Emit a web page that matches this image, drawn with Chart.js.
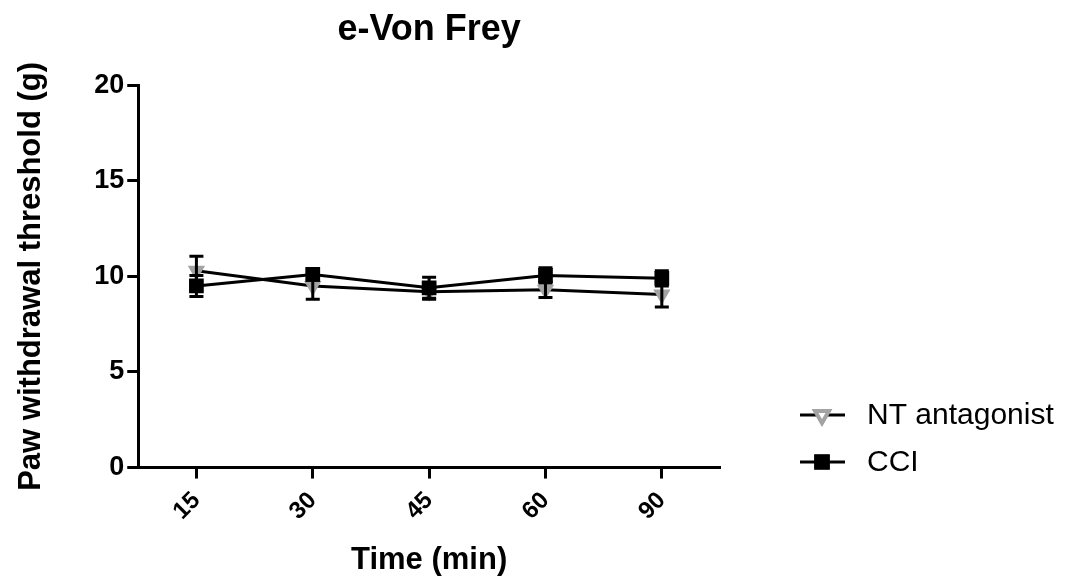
<!DOCTYPE html>
<html>
<head>
<meta charset="utf-8">
<script src="https://cdn.jsdelivr.net/npm/chart.js@4"></script>
<style>
    html, body { margin: 0; padding: 0; background: #fff; }
    #wrap { width: 1073px; height: 581px; }
</style>
</head>
<body>
<div id="wrap"><canvas id="vonFreyChart" width="1073" height="581"></canvas></div>
<script>
// e-Von Frey - paw withdrawal threshold over time

const timeLabels = ['15', '30', '45', '60', '90'];
const ntMean = [10.3, 9.5, 9.2, 9.3, 9.05];
const ntErr = [0.75, 0.7, 0.4, 0.4, 0.65];
const cciMean = [9.5, 10.1, 9.4, 10.05, 9.9];
const cciErr = [0.55, 0.3, 0.55, 0.4, 0.4];
const yTicks = [0, 5, 10, 15, 20];

const FONT = 'Arial, "Liberation Sans", Helvetica, sans-serif';

// error bars (mean ± err) drawn through the y scale
const errorBars = {
    id: 'errorBars',
    afterDatasetsDraw(chart) {
        const ctx = chart.ctx;
        const y = chart.scales.y;
        ctx.save();
        ctx.strokeStyle = '#000';
        ctx.lineWidth = 3;
        chart.data.datasets.forEach((ds, di) => {
            const meta = chart.getDatasetMeta(di);
            meta.data.forEach((pt, i) => {
                const v = ds.data[i];
                const e = ds.errors[i];
                const top = y.getPixelForValue(v + e);
                const bot = y.getPixelForValue(v - e);
                ctx.beginPath();
                ctx.moveTo(pt.x, top);
                ctx.lineTo(pt.x, bot);
                ctx.moveTo(pt.x - 7, top);
                ctx.lineTo(pt.x + 7, top);
                ctx.moveTo(pt.x - 7, bot);
                ctx.lineTo(pt.x + 7, bot);
                ctx.stroke();
            });
        });
        ctx.restore();
    }
};

// legend on the right: line - marker - line, then label
const sideLegend = {
    id: 'sideLegend',
    afterDraw(chart) {
        const ctx = chart.ctx;
        ctx.save();
        chart.data.datasets.forEach((ds, i) => {
            const ly = 415 + i * 47;
            ctx.strokeStyle = '#000';
            ctx.lineWidth = 3;
            ctx.beginPath();
            ctx.moveTo(800, ly);
            ctx.lineTo(845, ly);
            ctx.stroke();
            Chart.helpers.drawPoint(ctx, {
                pointStyle: ds.pointStyle,
                rotation: ds.pointRotation || 0,
                radius: ds.pointRadius,
                borderWidth: ds.pointBorderWidth
            }, 822, ly);
            ctx.fillStyle = ds.legendFill || ds.pointBackgroundColor;
            ctx.strokeStyle = ds.pointBorderColor;
            ctx.lineWidth = ds.legendBorder || ds.pointBorderWidth;
            ctx.fill();
            ctx.stroke();
            ctx.fillStyle = '#000';
            ctx.font = '30px ' + FONT;
            ctx.textBaseline = 'middle';
            ctx.fillText(ds.label, 867, ly + 1);
        });
        ctx.restore();
    }
};

new Chart(document.getElementById('vonFreyChart'), {
    type: 'line',
    data: {
        labels: timeLabels,
        datasets: [{
            label: 'NT antagonist',
            data: ntMean,
            errors: ntErr,
            borderColor: '#000',
            borderWidth: 3,
            pointStyle: 'triangle',
            pointRotation: 180,
            pointRadius: 8,
            pointBorderWidth: 2,
            pointBackgroundColor: '#a3a3a3',
            pointBorderColor: '#a3a3a3',
            legendFill: '#fff',
            legendBorder: 4,
            tension: 0,
            order: 1
        }, {
            label: 'CCI',
            data: cciMean,
            errors: cciErr,
            borderColor: '#000',
            borderWidth: 3,
            pointStyle: 'rect',
            pointRadius: 9,
            pointBorderWidth: 2,
            pointBackgroundColor: '#000',
            pointBorderColor: '#000',
            tension: 0,
            order: 0
        }]
    },
    options: {
        responsive: false,
        animation: false,
        devicePixelRatio: 1,
        layout: {
            padding: { left: 13, right: 353, top: 8, bottom: 2 }
        },
        plugins: {
            legend: { display: false },
            tooltip: { enabled: false },
            title: {
                display: true,
                text: 'e-Von Frey',
                fullSize: false,
                color: '#000',
                font: { family: FONT, size: 36, weight: 'bold' },
                padding: { top: 0, bottom: 34 }
            }
        },
        scales: {
            x: {
                type: 'category',
                offset: true,
                border: { display: true, color: '#000', width: 3 },
                grid: {
                    display: true,
                    drawOnChartArea: false,
                    drawTicks: true,
                    tickLength: 11,
                    tickWidth: 3,
                    tickColor: '#000',
                    offset: false
                },
                ticks: {
                    color: '#000',
                    font: { family: FONT, size: 24, weight: 'bold' },
                    maxRotation: 45,
                    minRotation: 45,
                    padding: 8
                },
                title: {
                    display: true,
                    text: 'Time (min)',
                    color: '#000',
                    font: { family: FONT, size: 31, weight: 'bold' },
                    padding: { top: 8, bottom: 0 }
                }
            },
            y: {
                min: 0,
                max: 20,
                afterBuildTicks(axis) {
                    axis.ticks = yTicks.map(v => ({ value: v }));
                },
                border: { display: true, color: '#000', width: 3 },
                grid: {
                    display: true,
                    drawOnChartArea: false,
                    drawTicks: true,
                    tickLength: 11,
                    tickWidth: 3,
                    tickColor: '#000'
                },
                ticks: {
                    color: '#000',
                    font: { family: FONT, size: 27, weight: 'bold' },
                    padding: 3
                },
                title: {
                    display: true,
                    text: 'Paw withdrawal threshold (g)',
                    color: '#000',
                    font: { family: FONT, size: 31, weight: 'bold' },
                    padding: { top: 0, bottom: 41 }
                }
            }
        }
    },
    plugins: [errorBars, sideLegend]
});
</script>
</body>
</html>
